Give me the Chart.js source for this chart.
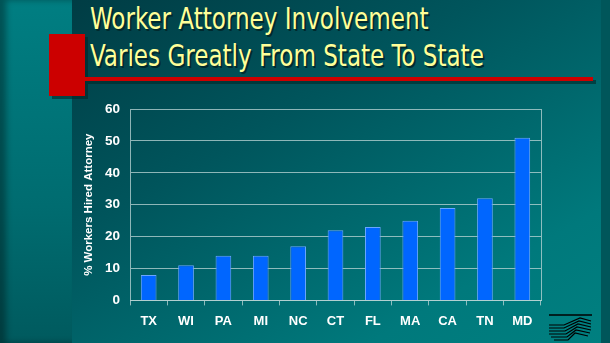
<!DOCTYPE html>
<html>
<head>
<meta charset="utf-8">
<script src="https://cdn.jsdelivr.net/npm/chart.js@4"></script>
<style>
  html, body {
    margin: 0;
    padding: 0;
    width: 610px;
    height: 343px;
    overflow: hidden;
  }
  body {
    position: relative;
    background: linear-gradient(150deg, #003840 0%, #00555c 40%, #00797c 80%, #008080 100%);
  }
  /* bande claire a gauche */
  #strip {
    position: absolute;
    left: 0; top: 0;
    width: 72px; height: 343px;
    background: linear-gradient(180deg, #007e82 0%, #006c70 60%, #005a5e 100%);
    box-shadow: inset 6px 0 6px rgba(0,0,0,0.35);
  }
  #edge {
    position: absolute;
    right: 0; top: 0;
    width: 9px; height: 343px;
    background: #00565a;
  }
  #redbox {
    position: absolute;
    left: 49px; top: 34px;
    width: 36px; height: 62px;
    background: #cc0000;
    box-shadow: 3px 3px 0 rgba(0,40,40,0.6);
  }
  #redline {
    position: absolute;
    left: 85px; top: 77px;
    width: 508px; height: 4px;
    background: #cc0000;
    box-shadow: 3px 3px 0 rgba(0,40,40,0.6);
  }
  #title {
    position: absolute;
    left: 90px; top: 0px;
    font-family: "DejaVu Sans Condensed", "DejaVu Sans", sans-serif;
    font-size: 30px;
    line-height: 37px;
    color: #ffff99;
    text-shadow: 2px 2px 0 #002a2e;
    white-space: nowrap;
    transform: scaleX(0.855);
    transform-origin: left top;
  }
  #wrap {
    position: absolute;
    left: 0; top: 0;
    width: 610px; height: 343px;
  }
  #logo {
    position: absolute;
    left: 548px; top: 313px;
  }
</style>
</head>
<body>
<div id="strip"></div>
<div id="edge"></div>
<div id="title">Worker Attorney Involvement<br>Varies Greatly From State To State</div>
<div id="redbox"></div>
<div id="redline"></div>
<div id="wrap"><canvas id="chart" width="610" height="343"></canvas></div>
<svg id="logo" width="46" height="30" viewBox="0 0 46 30">
  <line x1="1" y1="2" x2="44" y2="2" stroke="#000" stroke-width="1.5"/>
  <g stroke="#000" stroke-width="1.2" fill="none">
    <polyline points="1,12 16,12 32,5 43,8"/>
    <polyline points="1,15 16,15 31,8 43,11"/>
    <polyline points="1,18 17,18 30,11 43,14"/>
    <polyline points="1,21 18,21 29,14 43,17"/>
    <polyline points="3,24 19,24 28,17 42,20"/>
    <polyline points="6,27 20,27 27,20 40,23"/>
  </g>
</svg>
<script>
// Donnees du graphique
var states = ['TX', 'WI', 'PA', 'MI', 'NC', 'CT', 'FL', 'MA', 'CA', 'TN', 'MD'];
var pctHired = [8, 11, 14, 14, 17, 22, 23, 25, 29, 32, 51];
var yTicks = [0, 10, 20, 30, 40, 50, 60];

var gridColor = 'rgba(190, 215, 215, 0.75)';
var labelFont = 'Liberation Sans, Arial, sans-serif';

var ctx = document.getElementById('chart').getContext('2d');
var chart = new Chart(ctx, {
    type: 'bar',
    data: {
        labels: states,
        datasets: [{
            data: pctHired,
            backgroundColor: '#0066ff',
            borderColor: '#6aa6ff',
            borderWidth: 1,
            barPercentage: 0.42,
            categoryPercentage: 1.0
        }]
    },
    options: {
        responsive: false,
        animation: false,
        layout: {
            padding: { left: 82, right: 69, top: 109, bottom: 6 }
        },
        plugins: {
            legend: { display: false },
            tooltip: { enabled: false }
        },
        scales: {
            x: {
                grid: {
                    drawOnChartArea: false,
                    drawTicks: true,
                    tickLength: 5,
                    color: gridColor,
                    offset: true
                },
                border: { color: gridColor, width: 1 },
                ticks: {
                    color: '#ffffff',
                    padding: 8,
                    font: { family: labelFont, size: 13, weight: 'bold' }
                }
            },
            y: {
                min: 0,
                max: 60,
                afterBuildTicks: function(scale) {
                    scale.ticks = yTicks.map(function(v) { return { value: v }; });
                },
                afterFit: function(scale) {
                    scale.width = 48;
                },
                grid: {
                    color: gridColor,
                    drawTicks: false
                },
                border: { color: gridColor, width: 1 },
                ticks: {
                    color: '#ffffff',
                    padding: 10,
                    font: { family: labelFont, size: 13.5, weight: 'bold' }
                },
                title: {
                    display: true,
                    text: '% Workers Hired Attorney',
                    color: '#ffffff',
                    padding: { top: 0, bottom: 4 },
                    font: { family: labelFont, size: 11.5, weight: 'bold' }
                }
            },
            y2: {
                position: 'right',
                min: 0,
                max: 60,
                grid: { drawOnChartArea: false, drawTicks: false },
                border: { color: gridColor, width: 1 },
                ticks: { display: false }
            }
        }
    }
});
</script>
</body>
</html>
